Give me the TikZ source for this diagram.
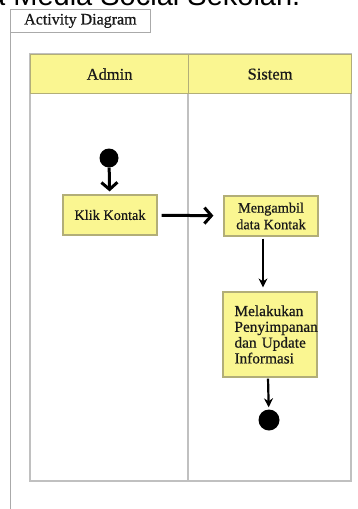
\documentclass[tikz,border=0pt]{standalone}
\usepackage{fontspec}
\setmainfont[FakeBold=0.4]{Liberation Serif}
\newfontfamily\titlefont{Liberation Sans}
\newfontfamily\heavyserif[FakeBold=0.6]{Liberation Serif}
\usetikzlibrary{arrows.meta,calc}
\definecolor{boxfill}{RGB}{250,246,145}
\definecolor{boxline}{RGB}{178,174,120}
\definecolor{laneline}{RGB}{192,192,192}
\definecolor{frameline}{RGB}{170,170,170}
\definecolor{ink}{RGB}{25,25,25}
\tikzset{
  actbox/.style={draw=boxline, line width=1.2pt, fill=boxfill, text=ink, font=\heavyserif\fontsize{14.3}{16.7}\selectfont, inner sep=2pt},
  hdrbox/.style={draw=boxline, line width=1.2pt, fill=boxfill, text=ink, font=\heavyserif\fontsize{16.5}{18}\selectfont, anchor=north west, minimum height=39pt},
  dot/.style={circle, fill=black, inner sep=0pt},
  bigarrow/.style={draw=black, line width=3pt, -{Straight Barb[length=7pt,width=16pt,line width=3pt]}},
  smallarrow/.style={draw=black, line width=2.2pt, -{Stealth[length=9pt,width=9pt]}}
}
\begin{document}
\begin{tikzpicture}[x=1pt,y=-1pt]
\useasboundingbox (0,0) rectangle (357,509);
\clip (0,0) rectangle (357,509);
\fill[white] (0,0) rectangle (357,509);
% clipped heading at the top
\node[anchor=base west, font=\titlefont\fontsize{29}{29}\selectfont, inner sep=0pt] (heading) at (-11,5) {a Media Social Sekolah.};
% frame
\node[draw=frameline, line width=0.8pt, anchor=north west, minimum width=140pt, minimum height=23pt, inner sep=0pt, font=\heavyserif\fontsize{16}{18}\selectfont, text=ink] (tab) at (10,9) {Activity Diagram};
\coordinate (fbot) at (10,509);
\draw[frameline, line width=0.8pt] (tab.south west) -- (fbot);
% swimlanes
\draw[laneline, line width=1.5pt] (30,54) rectangle (351,481);
\node[hdrbox, minimum width=158pt] (admin) at (30,54) {Admin};
\node[hdrbox, minimum width=163pt] (sistem) at (188,54) {Sistem};
\coordinate (divbot) at (188,481);
\draw[laneline, line width=1.5pt] (sistem.south west) -- (divbot);
% nodes
\node[dot, minimum size=19pt] (start) at (109,158) {};
\node[actbox, minimum width=94pt, minimum height=40pt] (klik) at (110,215) {Klik Kontak};
\node[actbox, minimum width=94pt, minimum height=40pt, align=center] (ambil) at (271,216) {Mengambil\\data Kontak};
\node[actbox, minimum width=94pt, minimum height=85pt, align=left, text width=89pt, inner xsep=2.5pt, inner ysep=3pt, font=\heavyserif\fontsize{15.3}{15.8}\selectfont] (simpan) at (270,334.5) {\hspace*{9pt}\mbox{Melakukan}\\\hspace*{9pt}\mbox{Penyimpanan}\\\hspace*{9pt}\mbox{dan Update}\\\hspace*{9pt}\mbox{Informasi}};
\node[dot, minimum size=21pt] (end) at (269,420) {};
% connectors
\draw[bigarrow, shorten <=0pt, shorten >=3pt] (start) -- (klik);
\draw[bigarrow, shorten <=4pt, shorten >=10pt] (klik) -- (ambil);
\draw[smallarrow, shorten <=2pt, shorten >=4pt] ([xshift=-8pt]ambil.south) -- ([xshift=-7pt]simpan.north);
\draw[smallarrow, shorten <=1pt, shorten >=2pt] ([xshift=-2pt]simpan.south) -- (end);
\end{tikzpicture}
\end{document}
